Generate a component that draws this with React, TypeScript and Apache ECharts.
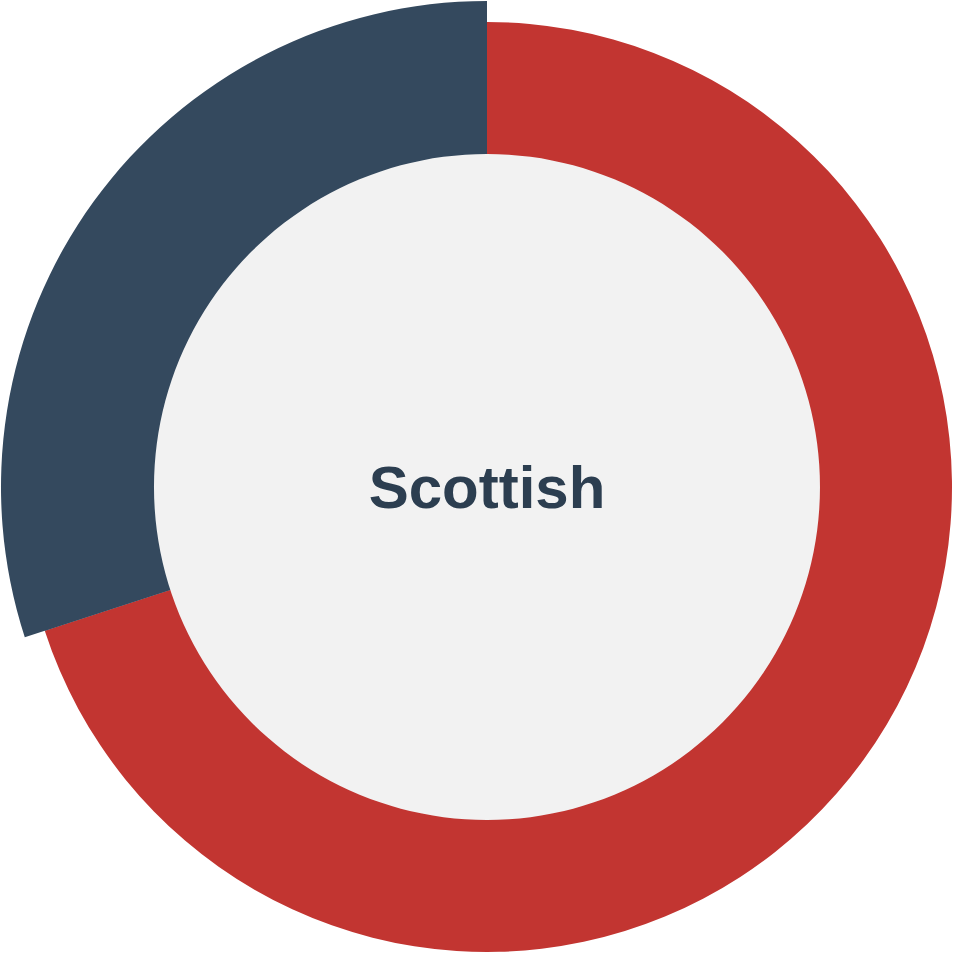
import React, { useEffect, useRef } from "react";
import * as echarts from "echarts";

const categories = ["Scottish", "Other"];
const values = [70, 30];
const colors = ["#c23531", "#34495e"];
const centerLabel = "Scottish";
const highlighted = 1;

export default function App() {
  const ref = useRef<HTMLDivElement>(null);
  useEffect(() => {
    if (!ref.current) return;
    const chart = echarts.init(ref.current, undefined, { renderer: "svg" });
    const base = categories.map((name, i) => ({
      name,
      value: values[i],
      itemStyle: { color: colors[i] },
    }));
    const pop = categories.map((name, i) => ({
      name,
      value: values[i],
      itemStyle: { color: i === highlighted ? colors[i] : "rgba(0,0,0,0)" },
    }));
    chart.setOption({
      animation: false,
      backgroundColor: "#ffffff",
      series: [
        {
          type: "pie",
          center: [487, 487],
          radius: [331, 465],
          startAngle: 90,
          clockwise: true,
          silent: true,
          label: { show: false },
          labelLine: { show: false },
          data: base,
        },
        {
          type: "pie",
          center: [487, 487],
          radius: [331, 486],
          startAngle: 90,
          clockwise: true,
          silent: true,
          label: { show: false },
          labelLine: { show: false },
          data: pop,
        },
        {
          type: "pie",
          center: [487, 487],
          radius: [0, 333],
          silent: true,
          label: {
            show: true,
            position: "center",
            formatter: centerLabel,
            fontFamily: "Liberation Sans, Arial, sans-serif",
            fontWeight: "bold",
            fontSize: 60,
            color: "#2c3e50",
          },
          labelLine: { show: false },
          data: [{ name: centerLabel, value: 1, itemStyle: { color: "#f2f2f2" } }],
        },
      ],
    });
    return () => chart.dispose();
  }, []);
  return (
    <div
      ref={ref}
      style={{ position: "fixed", left: 0, top: 0, width: 954, height: 954 }}
    />
  );
}
